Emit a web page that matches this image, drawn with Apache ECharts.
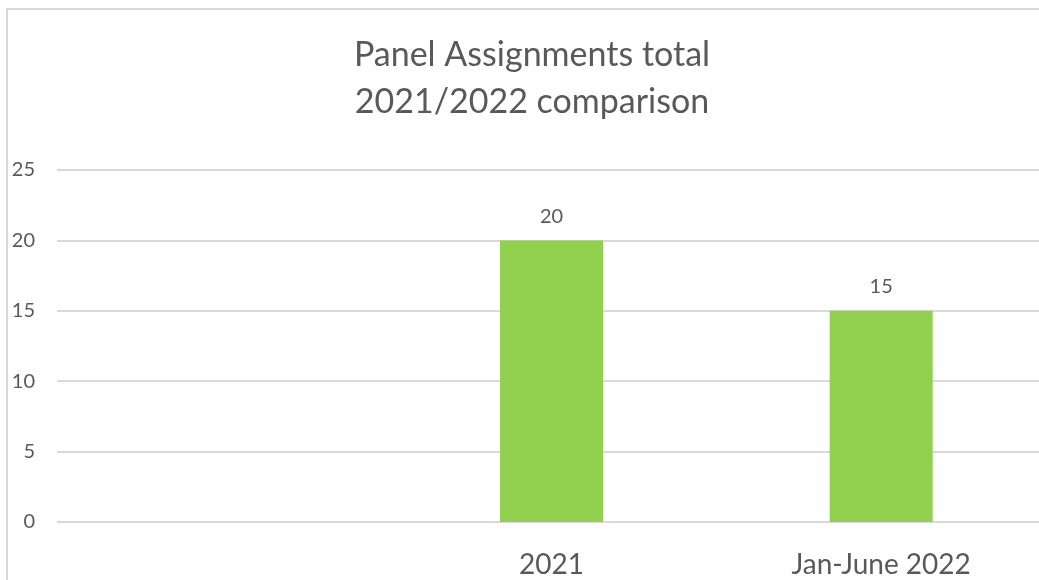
<!DOCTYPE html>
<html>
<head>
<meta charset="utf-8">
<script src="https://cdn.jsdelivr.net/npm/echarts@6/dist/echarts.min.js"></script>
<style>
  html, body { margin: 0; padding: 0; background: #ffffff; }
  #chart { width: 1039px; height: 580px; }
</style>
</head>
<body>
<div id="chart"></div>
<script>
// Panel assignment totals per period
const titleLines = ['Panel Assignments total', '2021/2022 comparison'];
const categories = ['', '2021', 'Jan-June 2022'];
const assignments = [null, 20, 15];
const yTicks = { min: 0, max: 25, interval: 5 };

const textColor = '#595959';
const gridColor = '#d9d9d9';
const font = 'Lato, "Open Sans", sans-serif';

const chart = echarts.init(document.getElementById('chart'));
chart.setOption({
  backgroundColor: '#ffffff',
  animation: false,
  graphic: [{
    type: 'rect',
    shape: { x: 7, y: 9, width: 1200, height: 800 },
    style: { fill: 'none', stroke: gridColor, lineWidth: 2 },
    silent: true,
    z: -1
  }],
  title: {
    text: titleLines.join('\n'),
    left: 527,
    top: 27,
    textAlign: 'center',
    textStyle: {
      color: textColor,
      fontFamily: font,
      fontWeight: 'normal',
      fontSize: 34,
      lineHeight: 47
    }
  },
  grid: {
    left: 57, top: 170, width: 989, height: 352,
    containLabel: false,
    outerBoundsMode: 'none'
  },
  xAxis: {
    type: 'category',
    data: categories,
    axisLine: { show: false },
    axisTick: { show: false },
    axisLabel: {
      color: textColor,
      fontFamily: font,
      fontSize: 28,
      margin: 29
    }
  },
  yAxis: {
    type: 'value',
    min: yTicks.min,
    max: yTicks.max,
    interval: yTicks.interval,
    axisLine: { show: false },
    axisTick: { show: false },
    axisLabel: {
      color: textColor,
      fontFamily: font,
      fontSize: 20,
      margin: 22
    },
    splitLine: { lineStyle: { color: gridColor, width: 2 } }
  },
  series: [{
    type: 'bar',
    data: assignments,
    barWidth: 103,
    itemStyle: { color: '#92d050' },
    label: {
      show: true,
      position: 'top',
      distance: 14,
      color: textColor,
      fontFamily: font,
      fontSize: 20
    }
  }]
});
</script>
</body>
</html>
